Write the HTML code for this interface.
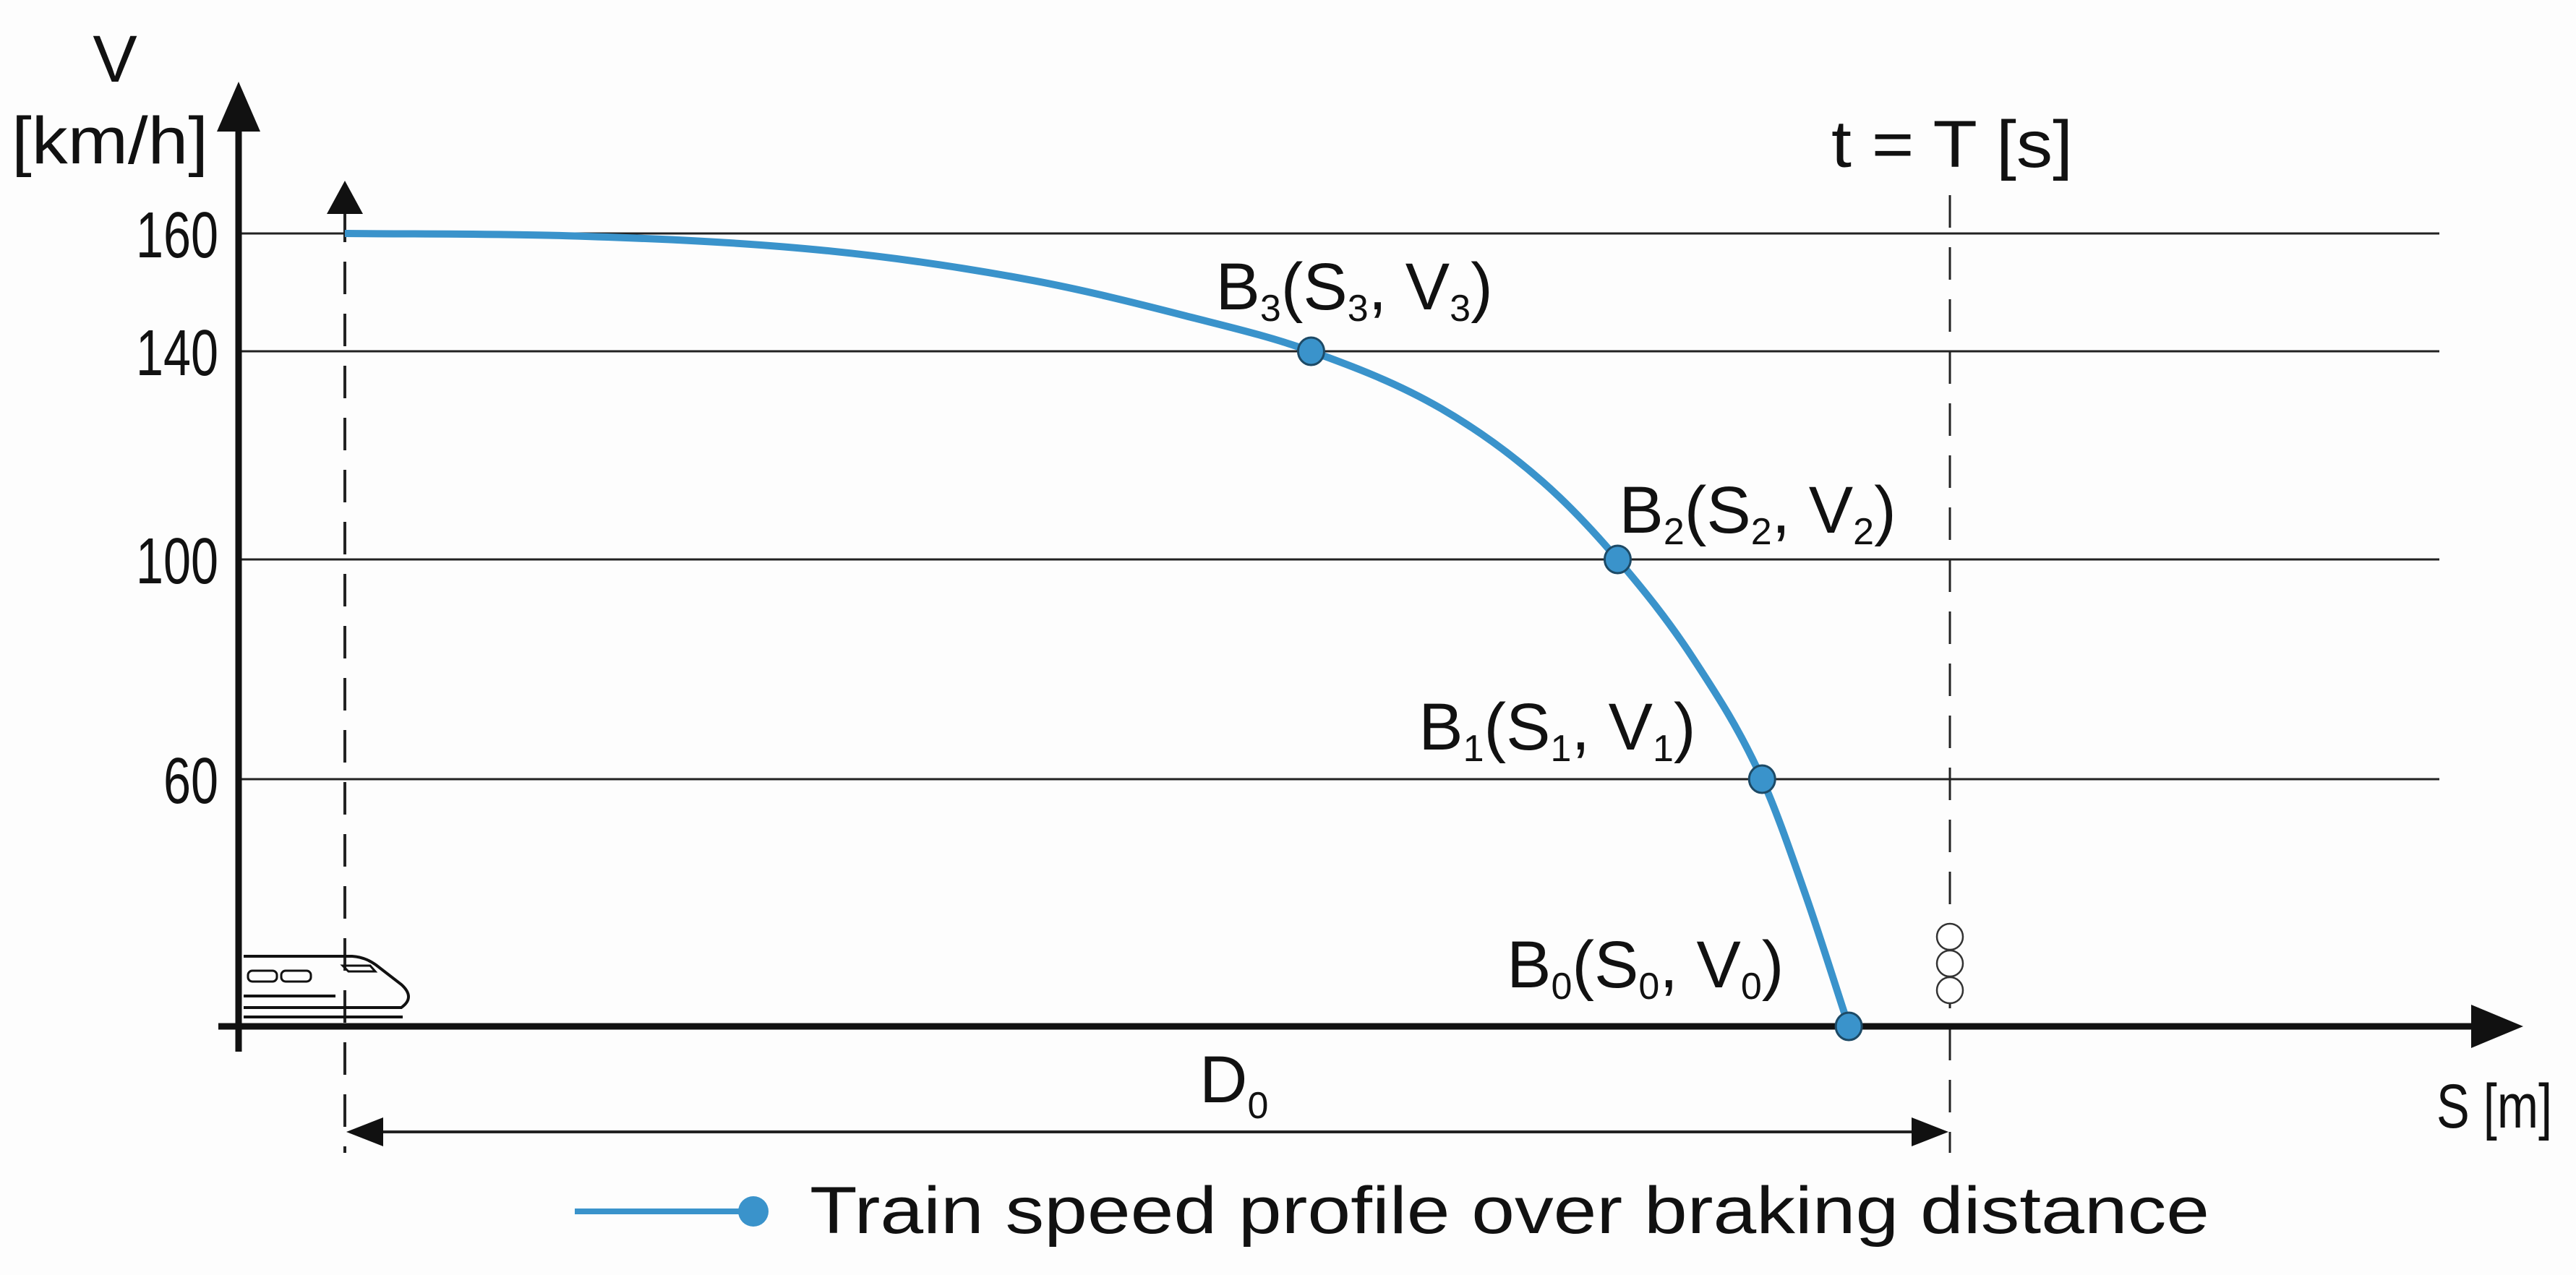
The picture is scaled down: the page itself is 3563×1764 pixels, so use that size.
<!DOCTYPE html>
<html><head><meta charset="utf-8"><style>
html,body{margin:0;padding:0;background:#fdfdfd;}
svg{display:block;font-family:"Liberation Sans",Arial,sans-serif;}
</style></head><body>
<svg id="chart" width="3563" height="1764" viewBox="0 0 3563 1764" xmlns="http://www.w3.org/2000/svg">
<rect x="0" y="0" width="3563" height="1764" fill="#fdfdfd"/>
<g id="grid"></g>
<g id="ticks" font-size="90" fill="#111" text-anchor="end"></g>
<text x="159" y="113" font-size="92" fill="#111" text-anchor="middle">V</text>
<text x="16" y="226" font-size="92" fill="#111" textLength="272" lengthAdjust="spacingAndGlyphs">[km/h]</text>
<text x="2533" y="231" font-size="92" fill="#111" textLength="334" lengthAdjust="spacingAndGlyphs">t = T [s]</text>
<text x="3370" y="1560" font-size="86" fill="#111" textLength="160" lengthAdjust="spacingAndGlyphs">S [m]</text>
<line x1="477" y1="290" x2="477" y2="1595" stroke="#222" stroke-width="4" stroke-dasharray="45,27"/>
<polygon points="477,250 452,296 502,296" fill="#111"/>
<line x1="2697" y1="270" x2="2697" y2="1595" stroke="#222" stroke-width="3" stroke-dasharray="45,27"/>
<line x1="330" y1="170" x2="330" y2="1455" stroke="#111" stroke-width="9"/>
<polygon points="330,113 300,182 360,182" fill="#111"/>
<line x1="302" y1="1420" x2="3425" y2="1420" stroke="#111" stroke-width="9"/>
<polygon points="3490,1420 3418,1390 3418,1450" fill="#111"/>
<g fill="none" stroke="#111" stroke-width="4">
<path d="M337,1323 L487,1323 Q505,1324 520,1335 L555,1362 Q575,1380 555,1394 L337,1394"/>
<line x1="337" y1="1407" x2="557" y2="1407"/>
<line x1="337" y1="1378" x2="464" y2="1378"/>
<rect x="343" y="1343" width="40" height="15" rx="6" stroke-width="3"/>
<rect x="389" y="1343" width="41" height="15" rx="6" stroke-width="3"/>
<polygon points="474,1336 512,1336 519,1344 482,1344" stroke-width="3"/>
</g>
<g fill="#fff" stroke="#333" stroke-width="2.5">
<ellipse cx="2697" cy="1296" rx="18" ry="18"/>
<ellipse cx="2697" cy="1333" rx="18" ry="18"/>
<ellipse cx="2697" cy="1370" rx="18" ry="18"/>
</g>
<line x1="520" y1="1566" x2="2655" y2="1566" stroke="#222" stroke-width="4"/>
<polygon points="479,1566 530,1546 530,1586" fill="#111"/>
<polygon points="2695,1566 2644,1546 2644,1586" fill="#111"/>
<text x="1659" y="1525" font-size="92" fill="#111">D<tspan font-size="52" dy="22">0</tspan></text>
<g id="series"></g>
<g>
<line x1="795" y1="1676" x2="1040" y2="1676" stroke="#3a93cb" stroke-width="8"/>
<circle cx="1042" cy="1676" r="21" fill="#3a93cb"/>
<text x="1120" y="1706" font-size="92" fill="#111" textLength="1936" lengthAdjust="spacingAndGlyphs">Train speed profile over braking distance</text>
</g>
</svg>
<script>
const yTicks = [160, 140, 100, 60];
const curveS = [0, 139, 303, 429, 524, 602, 683, 746, 793, 840, 883, 910, 937];
const curveV = [160, 159.6, 157, 152, 146, 140, 129, 115, 100, 82, 60, 32, 0];
const pointNames = ["3", "2", "1", "0"];
const pointS = [602, 793, 883, 937];
const pointV = [140, 100, 60, 0];

const vDomain = [0, 60, 100, 140, 160];
const vRange = [1420, 1078, 774, 486, 323];
function yScale(v) {
  for (let i = 0; i < vDomain.length - 1; i++) {
    if (v <= vDomain[i + 1] || i === vDomain.length - 2) {
      const t = (v - vDomain[i]) / (vDomain[i + 1] - vDomain[i]);
      return vRange[i] + t * (vRange[i + 1] - vRange[i]);
    }
  }
}
function xScale(s) { return 477 + s * 2.22; }

const NS = "http://www.w3.org/2000/svg";
const grid = document.getElementById("grid");
const ticks = document.getElementById("ticks");
yTicks.forEach(v => {
  const y = yScale(v);
  const l = document.createElementNS(NS, "line");
  l.setAttribute("x1", 330); l.setAttribute("x2", 3374);
  l.setAttribute("y1", y); l.setAttribute("y2", y);
  l.setAttribute("stroke", "#222"); l.setAttribute("stroke-width", "3");
  
  
  grid.appendChild(l);
  const t = document.createElementNS(NS, "text");
  t.setAttribute("x", 302); t.setAttribute("y", y + 33);
  t.setAttribute("textLength", String(v).length * 38);
  t.setAttribute("lengthAdjust", "spacingAndGlyphs");
  t.textContent = v;
  
  
  ticks.appendChild(t);
});

const series = document.getElementById("series");
const xs = curveS.map(xScale), ys = curveV.map(yScale);
const n = xs.length, dks = [], ms = [];
for (let i = 0; i < n - 1; i++) dks.push((ys[i + 1] - ys[i]) / (xs[i + 1] - xs[i]));
ms.push(dks[0]);
for (let i = 1; i < n - 1; i++) ms.push(dks[i - 1] * dks[i] <= 0 ? 0 : (dks[i - 1] + dks[i]) / 2);
ms.push(dks[n - 2]);
for (let i = 0; i < n - 1; i++) {
  if (dks[i] === 0) { ms[i] = 0; ms[i + 1] = 0; continue; }
  const a = ms[i] / dks[i], b = ms[i + 1] / dks[i], h = a * a + b * b;
  if (h > 9) { const t = 3 / Math.sqrt(h); ms[i] = t * a * dks[i]; ms[i + 1] = t * b * dks[i]; }
}
let d = "M" + xs[0] + "," + ys[0];
for (let i = 0; i < n - 1; i++) {
  const h = (xs[i + 1] - xs[i]) / 3;
  d += " C" + (xs[i] + h) + "," + (ys[i] + ms[i] * h) + " " + (xs[i + 1] - h) + "," + (ys[i + 1] - ms[i + 1] * h) + " " + xs[i + 1] + "," + ys[i + 1];
}
const path = document.createElementNS(NS, "path");
path.setAttribute("d", d);
path.setAttribute("fill", "none");
path.setAttribute("stroke", "#3a93cb");
path.setAttribute("stroke-width", "10");


series.appendChild(path);

const labelDx = [-132, 2, -475, -473];
const labelDy = [-58, -37, -41, -54];
pointS.forEach((s, i) => {
  const x = xScale(s), y = yScale(pointV[i]);
  const c = document.createElementNS(NS, "ellipse");
  c.setAttribute("cx", x); c.setAttribute("cy", y);
  c.setAttribute("rx", 18); c.setAttribute("ry", 19);
  c.setAttribute("fill", "#3a93cb"); c.setAttribute("stroke", "#1d4a66"); c.setAttribute("stroke-width", "3");
  
  
  series.appendChild(c);
  const nm = pointNames[i];
  const t = document.createElementNS(NS, "text");
  t.setAttribute("x", x + labelDx[i]); t.setAttribute("y", y + labelDy[i]);
  t.setAttribute("font-size", "92"); t.setAttribute("fill", "#111");
  t.innerHTML = 'B<tspan font-size="52" dy="16">' + nm + '</tspan><tspan dy="-16">(S</tspan><tspan font-size="52" dy="16">' + nm +
    '</tspan><tspan dy="-16">, V</tspan><tspan font-size="52" dy="16">' + nm + '</tspan><tspan dy="-16">)</tspan>';
  
  
  series.appendChild(t);
});
</script>
</body></html>
